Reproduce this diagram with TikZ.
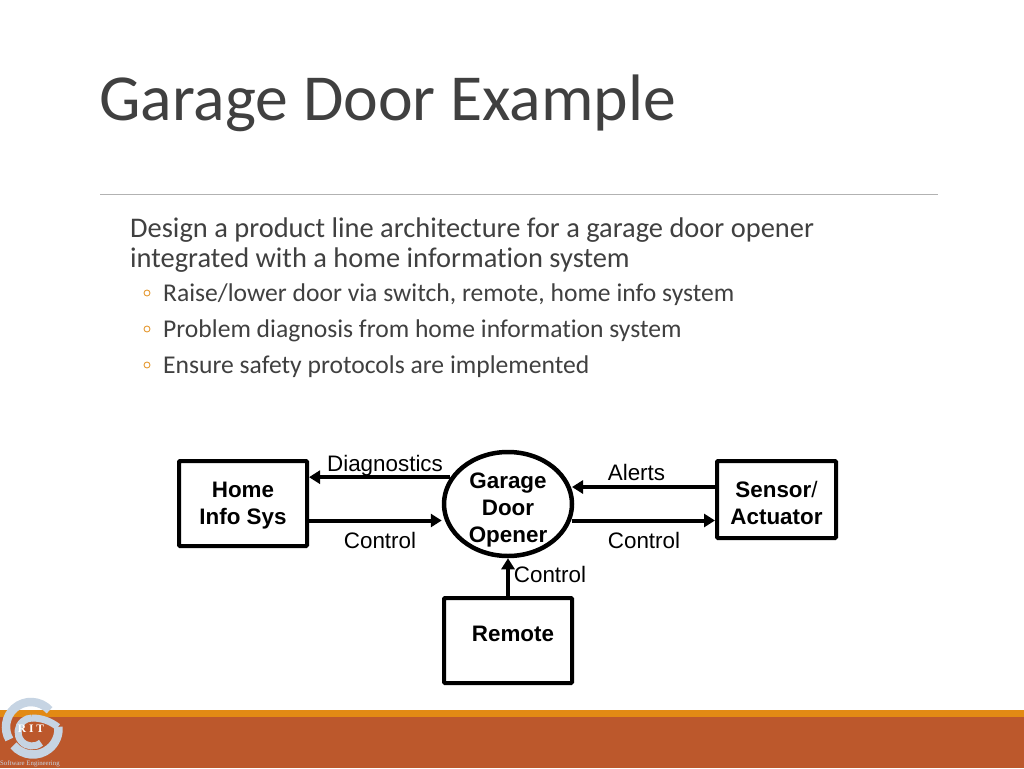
\documentclass[tikz,border=0pt]{standalone}
\usepackage{fontspec}
\setmainfont[Ligatures=NoCommon]{Carlito}
\newfontfamily\helv{Liberation Sans}
\newfontfamily\logofont{Liberation Serif}
\usetikzlibrary{shapes.geometric,arrows.meta}
\definecolor{titlegray}{HTML}{404040}
\definecolor{rust}{HTML}{BC582C}
\definecolor{amber}{HTML}{E28A14}
\definecolor{logoblue}{HTML}{C6D4E3}
\tikzset{
  px/.style={x=1pt,y=-1pt},
  blocktext/.style={inner sep=0pt,align=center,font=\helv\bfseries\fontsize{22.4}{27.3}\selectfont},
  blockbox/.style={draw=black,line width=4pt,rounded corners=1pt,inner sep=0pt},
  hubnode/.style={ellipse,draw=black,line width=4.5pt,inner sep=0pt,minimum width=128pt,minimum height=104pt},
  flow/.style={line width=4pt,-{Triangle[length=11pt,width=13pt]}},
  flowlabel/.style={inner sep=0pt,font=\helv\fontsize{22.4}{27}\selectfont,text=black},
  bullettext/.style={anchor=west,inner sep=0pt,text=titlegray,font=\fontsize{25.6}{30}\selectfont},
  bodytext/.style={anchor=west,inner sep=0pt,text=titlegray,font=\fontsize{28.45}{32}\selectfont},
  bulletmark/.style={circle,draw=amber!85!white,line width=.9pt,inner sep=0pt,minimum size=6pt},
  logoline/.style={draw=logoblue,line width=8.5pt}
}
\begin{document}
\begin{tikzpicture}[px]
\useasboundingbox (0,0) rectangle (1024,768);
\fill[white] (0,0) rectangle (1024,768);
% title and rule
\node[anchor=west,inner sep=0pt,text=titlegray,font=\fontsize{65.7}{70}\selectfont] (title) at (99,103) {Garage Door Example};
\draw[draw=black!30,line width=1pt] (100,194.5) -- (938,194.5);
% body
\node[bodytext] (b1) at (130,230) {Design a product line architecture for a garage door opener};
\node[bodytext] (b2) at (130,260) {integrated with a home information system};
\node[bulletmark] (m1) at (147,293) {};
\node[bullettext] (s1) at (163,295) {Raise/lower door via switch, remote, home info system};
\node[bulletmark] (m2) at (147,329) {};
\node[bullettext] (s2) at (163,331) {Problem diagnosis from home information system};
\node[bulletmark] (m3) at (147,365) {};
\node[bullettext] (s3) at (163,367) {Ensure safety protocols are implemented};
% diagram
\node[blockbox,minimum width=128pt,minimum height=85pt] (home) at (243,503.5) {};
\node[blocktext] (hometext) at (243,505.5) {Home\\Info Sys};
\node[hubnode] (hub) at (508,504) {};
\node[blocktext] (hubtext) at (508,510) {Garage\\Door\\Opener};
\node[blockbox,minimum width=119pt,minimum height=77pt] (sensor) at (776.5,499.5) {};
\node[blocktext] (sensortext) at (776.5,503) {Sensor\textmd{/}\\Actuator};
\node[blockbox,minimum width=128pt,minimum height=85pt] (remote) at (508,640.5) {};
\node[blocktext] (remotetext) at (513,634) {Remote};
\draw[flow] (hub.155) -- (home.east |- hub.155);
\coordinate (homeout) at (home.east |- 0,520.5);
\coordinate (hubin) at (hub.west |- 0,520.5);
\draw[flow] (homeout) -- (hubin);
\coordinate (sensorin) at (sensor.west |- 0,487);
\coordinate (hubalert) at (572,487);
\draw[flow] (sensorin) -- (hubalert);
\coordinate (hubout) at (572,520.5);
\coordinate (sensorctl) at (sensor.west |- 0,520.5);
\draw[flow] (hubout) -- (sensorctl);
\draw[flow] (remote.north) -- (hub.south);
\node[flowlabel] (l1) at (385,465.5) {Diagnostics};
\node[flowlabel] (l2) at (380,540) {Control};
\node[flowlabel] (l3) at (636.5,472) {Alerts};
\node[flowlabel] (l4) at (644,540) {Control};
\node[flowlabel] (l5) at (550,574) {Control};
% footer band
\fill[amber] (0,710) rectangle (1024,717);
\fill[rust] (0,717) rectangle (1024,768);
% logo (angles run clockwise on the page, y axis points down)
\draw[logoline] ([shift={(31,727)}]318:25) arc[start angle=318,end angle=150,radius=25];
\draw[logoline] ([shift={(33,729)}]140:25.5) arc[start angle=140,end angle=-5,radius=25.5];
\draw[logoline,line width=7pt] ([shift={(32,732)}]50:14) arc[start angle=50,end angle=270,radius=14];
\draw[logoline,line width=7pt] (32,718) .. controls (42,718) and (50,721) .. (58,727);
\node[inner sep=0pt,text=white,font=\logofont\bfseries\fontsize{11.5}{12}\selectfont] (rit) at (31,728.5) {R I T};
\node[inner sep=0pt,anchor=west,text=logoblue,font=\logofont\fontsize{6.8}{8}\selectfont] (swe) at (0,763.5) {Software Engineering};
\end{tikzpicture}
\end{document}
